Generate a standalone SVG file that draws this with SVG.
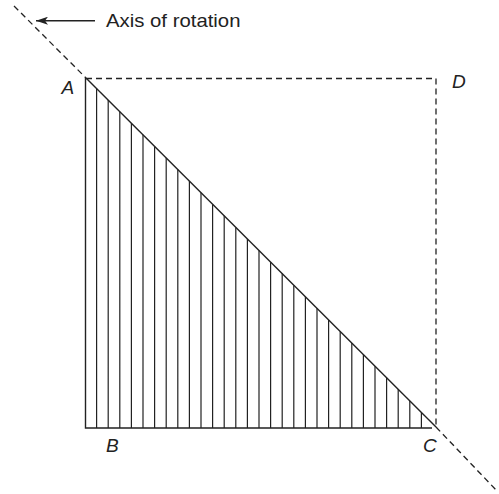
<svg xmlns="http://www.w3.org/2000/svg" width="499" height="494" viewBox="0 0 499 494">
<style>
.ln{stroke:#222;stroke-width:1.4;fill:none}
.ds{stroke:#222;stroke-width:1.3;fill:none;stroke-dasharray:6,4}
.ht{stroke:#222;stroke-width:1.2}
.lb{font-family:"Liberation Sans",Arial,sans-serif;font-size:19px;font-style:italic;fill:#222}
.tx{font-family:"Liberation Sans",Arial,sans-serif;font-size:18.5px;fill:#222}
</style>
<defs>
<marker id="ah" markerWidth="12" markerHeight="8" refX="12" refY="4" orient="auto" markerUnits="userSpaceOnUse">
<path d="M12,4 L0,0 L3,4 L0,8 Z" fill="#222"/>
</marker>
</defs>
<g id="axis">
<line class="ds" x1="14" y1="6" x2="86" y2="78"/>
<line class="ds" x1="436" y1="427" x2="497" y2="491"/>
</g>
<g id="square-dashed">
<path class="ds" d="M86,78.5 H436 V427"/>
</g>
<g id="triangle">
<path class="ln" d="M85.5,78 V428 H432"/>
<line class="ln" x1="86" y1="78" x2="436" y2="427"/>
<path class="ht" d="M96.6,88.6V428M108.2,100.1V428M119.8,111.7V428M131.4,123.3V428M143,134.8V428M154.6,146.4V428M166.2,158V428M177.8,169.5V428M189.4,181.1V428M201,192.7V428M212.6,204.2V428M224.2,215.8V428M235.8,227.4V428M247.4,238.9V428M259,250.5V428M270.6,262V428M282.2,273.6V428M293.8,285.2V428M305.4,296.8V428M317,308.3V428M328.6,319.9V428M340.2,331.5V428M351.8,343V428M363.4,354.6V428M375,366.2V428M386.6,377.7V428M398.2,389.3V428M409.8,400.9V428M421.4,412.4V428"/>
</g>
<g id="connectors">
<line class="ln" x1="95" y1="20.7" x2="36" y2="20.7" marker-end="url(#ah)"/>
</g>
<g id="labels">
<text class="tx" x="106" y="27" textLength="134.5" lengthAdjust="spacingAndGlyphs">Axis of rotation</text>
<text class="lb" x="61.5" y="94">A</text>
<text class="lb" x="106" y="452">B</text>
<text class="lb" x="423" y="452">C</text>
<text class="lb" x="452" y="88">D</text>
</g>
</svg>
